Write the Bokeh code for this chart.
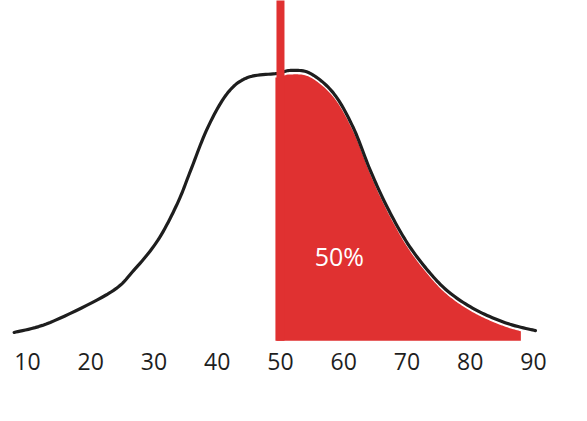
import numpy as np
from bokeh.plotting import figure
from bokeh.models import FixedTicker, Range1d
from bokeh.core.properties import value
from bokeh.embed import file_html
from bokeh.resources import INLINE

# Curve (x = score, y = relative height, peak = 100)
curve_x = [7.9, 13.6, 23.1, 26.8, 30.6, 33.7, 35.8, 38.5, 41.6, 44.8, 49.5, 51.6,
           54.7, 58.4, 61.5, 64.2, 66.9, 70.1, 73.7, 76.9, 81.1, 85.9, 90.3]
curve_y = [0.4, 4.2, 15.6, 24.0, 35.4, 49.4, 62.0, 78.3, 91.3, 97.3, 98.9, 100.0,
           98.9, 91.3, 78.3, 62.0, 47.9, 34.2, 22.8, 15.2, 8.7, 3.8, 1.1]

# Shaded share (from the mean upwards)
shade_start = 49.2
shade_end = 88.0
split_value = 50
share_label = "50%"

tick_values = [10, 20, 30, 40, 50, 60, 70, 80, 90]

RED = "#e03131"
INK = "#1e1e1e"
FONT = "Open Sans"


def smooth(xp, yp, n=12):
    """Catmull-Rom smoothing through the read points (drawing only)."""
    P = np.column_stack([xp, yp]).astype(float)
    P = np.vstack([P[0], P, P[-1]])
    out = []
    for i in range(1, len(P) - 2):
        p0, p1, p2, p3 = P[i - 1], P[i], P[i + 1], P[i + 2]
        for t in np.linspace(0, 1, n, endpoint=False):
            t2, t3 = t * t, t * t * t
            pt = 0.5 * ((2 * p1) + (-p0 + p2) * t + (2 * p0 - 5 * p1 + 4 * p2 - p3) * t2
                        + (-p0 + 3 * p1 - 3 * p2 + p3) * t3)
            out.append(pt)
    out.append(P[-2])
    out = np.array(out)
    return out[:, 0], out[:, 1]


sx, sy = smooth(curve_x, curve_y)

p = figure(frame_width=579, frame_height=342, output_backend="svg",
           toolbar_location=None, min_border_left=0, min_border_right=0,
           min_border_top=0, min_border_bottom=40,
           x_range=Range1d(5.74, 97.27), y_range=Range1d(-3.42, 126.6))
p.outline_line_color = None
p.xgrid.visible = False
p.ygrid.visible = False
p.yaxis.visible = False
p.background_fill_color = "white"
p.border_fill_color = "white"

# red shaded area under the curve
xs = np.linspace(shade_start, shade_end, 200)
ys = np.interp(xs, sx, sy) - 1.5
ys = np.clip(ys, 0.5, None)
p.varea(x=xs, y1=np.full_like(xs, -2.8), y2=ys, fill_color=RED)

# black curve
p.line(sx, sy, line_color=INK, line_width=3.2, line_join="round", line_cap="round")

# vertical split line
p.segment(x0=[split_value], y0=[-2.8], x1=[split_value], y1=[130], line_color=RED, line_width=8)

# label
p.text(x=[59.3], y=[29.3], text=[share_label], text_color="white",
       text_font=value(FONT), text_font_size="25px", text_align="center", text_baseline="middle")

ax = p.xaxis[0]
ax.ticker = FixedTicker(ticks=tick_values)
ax.axis_line_color = None
ax.major_tick_line_color = None
ax.minor_tick_line_color = None
ax.major_label_text_font = FONT
ax.major_label_text_font_size = "23px"
ax.major_label_text_color = INK
ax.major_label_standoff = 4

open("out.html", "w").write(file_html(p, INLINE))
